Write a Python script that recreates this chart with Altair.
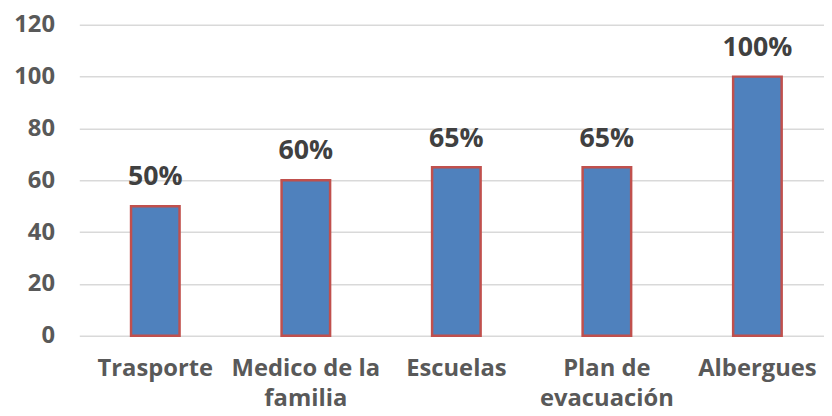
import altair as alt
import pandas as pd

categories = ["Trasporte", "Medico de la|familia", "Escuelas", "Plan de|evacuación", "Albergues"]
values = [50, 60, 65, 65, 100]
value_labels = ["50%", "60%", "65%", "65%", "100%"]

df = pd.DataFrame({"cat": categories, "val": values, "lab": value_labels})

FONT = "Open Sans"

x = alt.X("cat:N", sort=categories, title=None,
          scale=alt.Scale(paddingInner=0.6776, paddingOuter=0.3125, align=0.55),
          axis=alt.Axis(labelExpr="split(datum.value, '|')", labelAngle=0,
                        labelFont=FONT, labelFontSize=24, labelFontWeight="bold",
                        labelColor="#595959", labelLineHeight=30, labelPadding=21,
                        ticks=False, domain=False, grid=False, labelLimit=300))
y = alt.Y("val:Q", title=None,
          scale=alt.Scale(domain=[0, 120], nice=False),
          axis=alt.Axis(values=[0, 20, 40, 60, 80, 100, 120],
                        labelFont=FONT, labelFontSize=24, labelFontWeight="bold",
                        labelColor="#595959", labelPadding=25,
                        ticks=False, domain=False, grid=True,
                        gridColor="#d9d9d9", gridWidth=1.5))

bars = alt.Chart(df).mark_bar(fill="#4f81bd", stroke="#c0504d", strokeWidth=2.5).encode(x=x, y=y)
text = alt.Chart(df).mark_text(font=FONT, fontSize=27, fontWeight="bold", color="#404040",
                               dy=-21, baseline="alphabetic").encode(
    x=alt.X("cat:N", sort=categories), y="val:Q", text="lab:N")

chart = (bars + text).properties(
    width=752, height=314,
    autosize=alt.AutoSizeParams(type="none"),
    padding={"left": 72, "top": 15, "right": 0, "bottom": 71},
).configure_view(stroke=None)

chart.save("out.html", embed_options={"renderer": "svg", "actions": False})
